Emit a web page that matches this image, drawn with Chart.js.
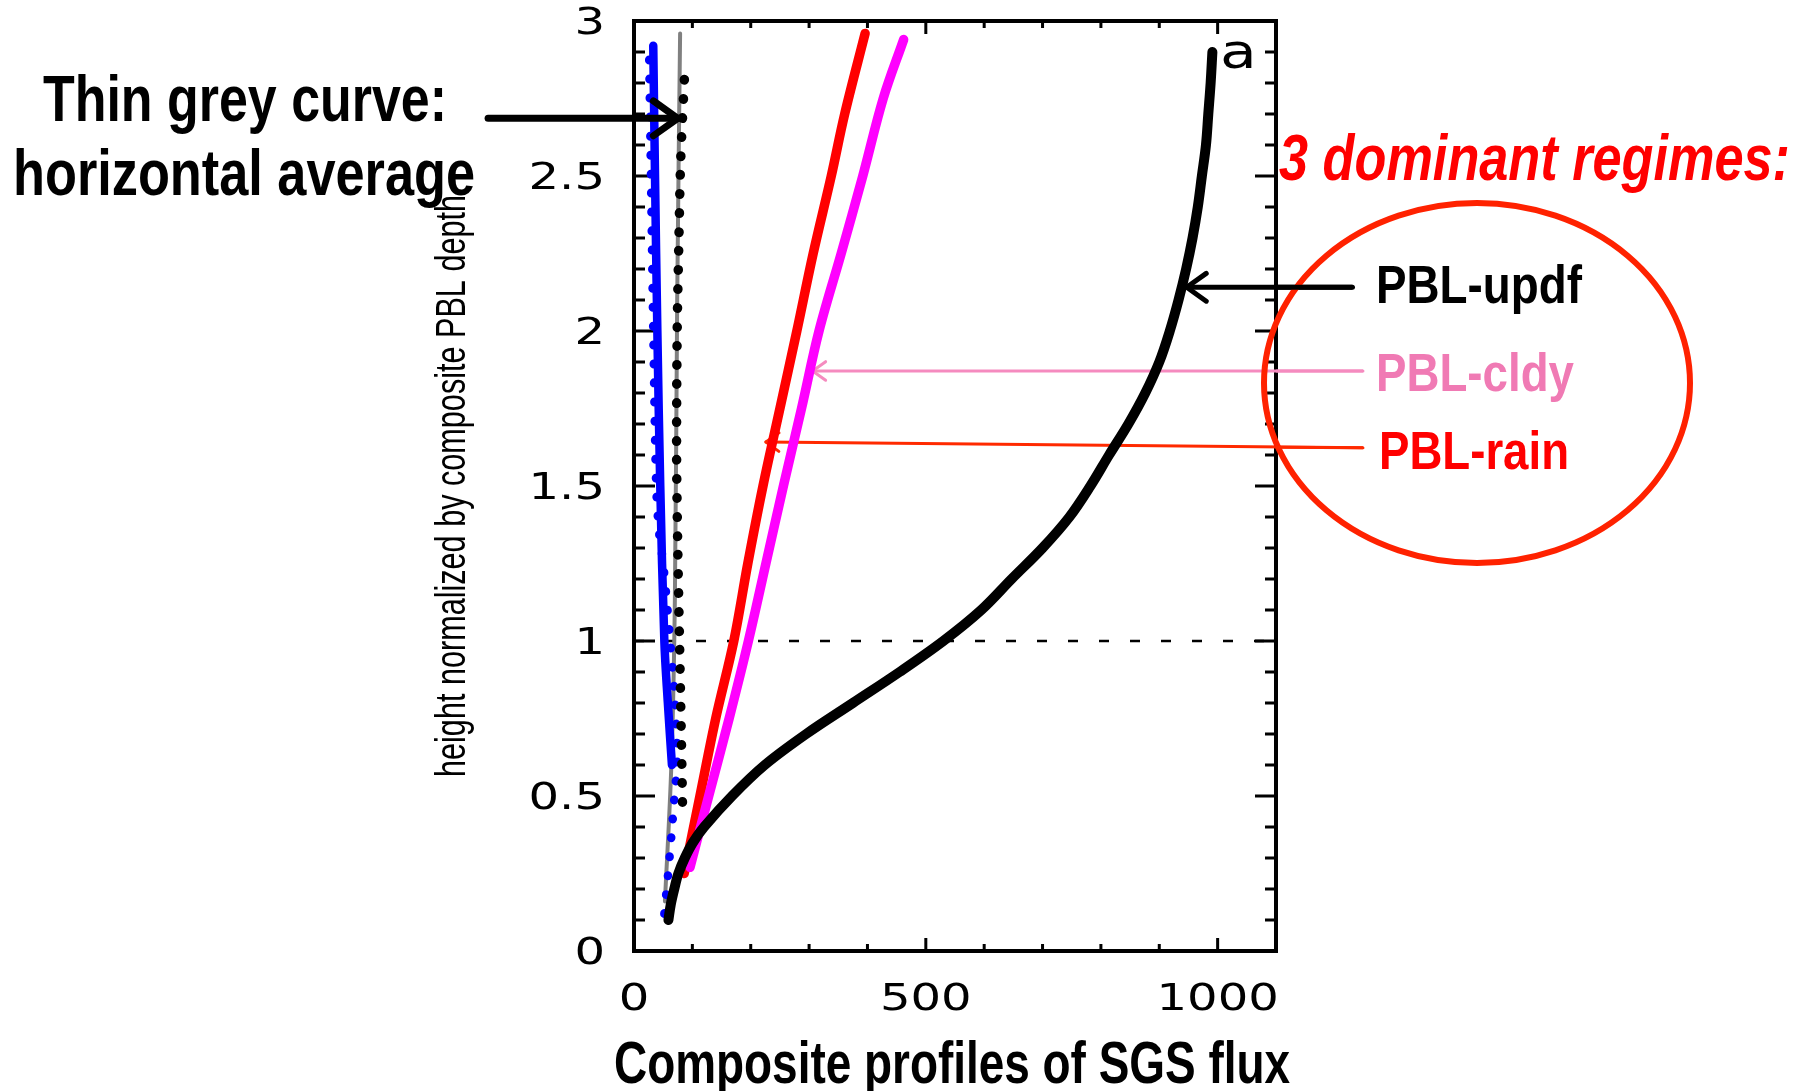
<!DOCTYPE html>
<html>
<head>
<meta charset="utf-8">
<title>Composite profiles of SGS flux</title>
<script src="https://cdn.jsdelivr.net/npm/chart.js@4.4.1/dist/chart.umd.min.js"></script>
<style>
  html, body { margin: 0; padding: 0; background: #fff; }
  #wrap { width: 1802px; height: 1091px; position: relative; }
</style>
</head>
<body>
<div id="wrap"><canvas id="sgsChart"></canvas></div>
<script>
// heights are normalized by the composite PBL depth, fluxes are SGS flux
const updfHeight = [0.1, 0.15, 0.2, 0.25, 0.3, 0.35, 0.4, 0.5, 0.6, 0.7, 0.8, 0.9, 1.0, 1.1, 1.2, 1.3, 1.4, 1.5,
  1.6, 1.7, 1.8, 1.9, 2.0, 2.1, 2.2, 2.3, 2.4, 2.5, 2.6, 2.7, 2.8, 2.9];
const updfFlux = [59, 63, 69, 76, 87, 101, 120, 168, 224, 295, 375, 455, 530, 595, 647, 700, 746, 782,
  814, 847, 876, 900, 918, 933, 946, 957, 966, 973, 980, 984, 988, 991];

const rainHeight = [0.25, 0.5, 0.75, 1.0, 1.25, 1.5, 1.75, 2.0, 2.25, 2.5, 2.7, 2.96];
const rainFlux = [86, 113, 140, 171, 195, 221, 250, 279, 307, 338, 361, 396];

const cldyHeight = [0.27, 0.5, 0.75, 1.0, 1.25, 1.5, 1.75, 2.0, 2.25, 2.5, 2.75, 2.94];
const cldyFlux = [96, 128, 163, 196, 226, 256, 287, 317, 355, 392, 427, 462];

const blueHeight = [0.6, 0.8, 1.0, 1.5, 2.0, 2.5, 2.92];
const blueFlux = [65, 58, 52, 45, 40, 36, 33];

const blueDotHeight = [0.12, 0.24, 0.37, 0.49, 0.62, 0.81, 1.0, 1.11, 1.25, 1.35, 1.5, 2.0, 2.5, 2.88];
const blueDotFlux = [52, 58, 64, 69, 74, 70, 62, 57, 50, 43, 38, 33, 29, 26];

const blackDotHeight = [0.48, 0.6, 0.8, 1.0, 1.3, 1.6, 2.0, 2.3, 2.55, 2.84];
const blackDotFlux = [83, 82, 80, 78, 75, 73, 74, 77, 80, 87];

const meanHeight = [0.16, 0.6, 1.13, 2.1, 2.96];
const meanFlux = [53, 64, 70, 74, 79];

const pblTopHeight = [1, 1];
const pblTopFlux = [0, 1100];

const xTickValues = [0, 500, 1000];
const xTickLabels = ['0', '500', '1000'];
const yTickValues = [0, 0.5, 1, 1.5, 2, 2.5, 3];
const yTickLabels = ['0', '0.5', '1', '1.5', '2', '2.5', '3'];

const X_MIN = 0, X_MAX = 1100, Y_MIN = 0, Y_MAX = 3;

function points(xs, ys) {
  return xs.map((v, i) => ({ x: v, y: ys[i] }));
}

// text drawn with a horizontal stretch (or squeezed to a given width)
function stretchText(ctx, text, x, y, opts) {
  ctx.save();
  ctx.font = opts.font;
  ctx.fillStyle = opts.color || '#000';
  ctx.textAlign = opts.align || 'left';
  ctx.textBaseline = 'alphabetic';
  let sx = opts.sx || 1;
  if (opts.width) sx = opts.width / ctx.measureText(text).width;
  ctx.translate(x, y);
  if (opts.rotate) ctx.rotate(opts.rotate);
  ctx.scale(sx, 1);
  ctx.fillText(text, 0, 0);
  ctx.restore();
}

function arrow(ctx, x0, y0, x1, y1, color, width, head) {
  ctx.save();
  ctx.strokeStyle = color;
  ctx.lineWidth = width;
  ctx.lineCap = 'round';
  ctx.lineJoin = 'round';
  ctx.beginPath();
  ctx.moveTo(x0, y0);
  ctx.lineTo(x1, y1);
  ctx.stroke();
  const a = Math.atan2(y1 - y0, x1 - x0);
  ctx.beginPath();
  ctx.moveTo(x1 - head * Math.cos(a - 0.62), y1 - head * Math.sin(a - 0.62));
  ctx.lineTo(x1, y1);
  ctx.lineTo(x1 - head * Math.cos(a + 0.62), y1 - head * Math.sin(a + 0.62));
  ctx.stroke();
  ctx.restore();
}

const tickFont = '37px "DejaVu Sans"';

// box, inward ticks on all four sides and the tick labels
const framePlugin = {
  id: 'frame',
  beforeDatasetsDraw(chart) {
    const { ctx, scales: { x, y } } = chart;
    const left = x.getPixelForValue(X_MIN), right = x.getPixelForValue(X_MAX);
    const top = y.getPixelForValue(Y_MAX), bottom = y.getPixelForValue(Y_MIN);
    ctx.save();
    ctx.strokeStyle = '#000';
    ctx.lineCap = 'butt';
    ctx.lineWidth = 3;
    for (let v = 100; v < X_MAX; v += 100) {
      const px = x.getPixelForValue(v);
      const len = v % 500 === 0 ? 13 : 7;
      ctx.beginPath();
      ctx.moveTo(px, bottom); ctx.lineTo(px, bottom - len);
      ctx.moveTo(px, top); ctx.lineTo(px, top + len);
      ctx.stroke();
    }
    for (let i = 1; i < 30; i++) {
      const v = i / 10;
      const py = y.getPixelForValue(v);
      const len = i % 5 === 0 ? 21 : 11;
      ctx.beginPath();
      ctx.moveTo(left, py); ctx.lineTo(left + len, py);
      ctx.moveTo(right, py); ctx.lineTo(right - len, py);
      ctx.stroke();
    }
    ctx.lineWidth = 4;
    ctx.strokeRect(left, top, right - left, bottom - top);

    xTickValues.forEach((v, i) => {
      stretchText(ctx, xTickLabels[i], x.getPixelForValue(v), bottom + 59,
        { font: tickFont, align: 'center', sx: 1.3 });
    });
    yTickValues.forEach((v, i) => {
      stretchText(ctx, yTickLabels[i], left - 29, y.getPixelForValue(v) + 13,
        { font: tickFont, align: 'right', sx: 1.3 });
    });
    stretchText(ctx, 'a', x.getPixelForValue(1004), top + 47,
      { font: '48px "DejaVu Sans"', sx: 1.25 });

    // arrows pointing at the regime curves
    const ax = v => x.getPixelForValue(v), ay = v => y.getPixelForValue(v);
    arrow(ctx, ax(1231), ay(2.141), ax(947), ay(2.141), '#000', 5, 24);
    arrow(ctx, ax(1249), ay(1.871), ax(306), ay(1.871), '#f58bbf', 3, 16);
    arrow(ctx, ax(1249), ay(1.623), ax(226), ay(1.642), '#ff2a00', 3, 16);
    ctx.restore();
  },
  afterDatasetsDraw(chart) {
    const { ctx, scales: { x, y } } = chart;
    arrow(ctx, x.getPixelForValue(-250), y.getPixelForValue(2.686),
      x.getPixelForValue(75), y.getPixelForValue(2.686), '#000', 7, 30);
  }
};

// titles and the regime annotation
const notesPlugin = {
  id: 'notes',
  afterDraw(chart) {
    const { ctx } = chart;
    const bold = '"Liberation Sans", Arial, sans-serif';

    stretchText(ctx, 'Thin grey curve:', 245, 121, { font: 'bold 64px ' + bold, align: 'center', width: 404 });
    stretchText(ctx, 'horizontal average', 244, 195, { font: 'bold 64px ' + bold, align: 'center', width: 462 });

    stretchText(ctx, 'height normalized by composite PBL depth', 465, 486,
      { font: '42px ' + bold, align: 'center', width: 582, rotate: -Math.PI / 2 });

    stretchText(ctx, 'Composite profiles of SGS flux', 952, 1083,
      { font: 'bold 60px ' + bold, align: 'center', width: 676 });

    stretchText(ctx, '3 dominant regimes:', 1279, 180,
      { font: 'italic bold 64px ' + bold, color: '#ff0000', width: 511 });

    ctx.save();
    ctx.strokeStyle = '#ff2200';
    ctx.lineWidth = 6;
    ctx.beginPath();
    ctx.ellipse(1477, 383, 213, 180, 0, 0, Math.PI * 2);
    ctx.stroke();
    ctx.restore();

    const { x, y } = chart.scales;
    ctx.save();
    ctx.strokeStyle = '#000';
    ctx.lineWidth = 5;
    ctx.beginPath();
    ctx.moveTo(x.getPixelForValue(1100), y.getPixelForValue(2.141));
    ctx.lineTo(x.getPixelForValue(1231), y.getPixelForValue(2.141));
    ctx.stroke();
    ctx.strokeStyle = '#f58bbf';
    ctx.lineWidth = 3;
    ctx.beginPath();
    ctx.moveTo(x.getPixelForValue(1100), y.getPixelForValue(1.871));
    ctx.lineTo(x.getPixelForValue(1249), y.getPixelForValue(1.871));
    ctx.stroke();
    ctx.strokeStyle = '#ff2a00';
    ctx.beginPath();
    ctx.moveTo(x.getPixelForValue(1100), y.getPixelForValue(1.625));
    ctx.lineTo(x.getPixelForValue(1249), y.getPixelForValue(1.623));
    ctx.stroke();
    ctx.restore();

    stretchText(ctx, 'PBL-updf', 1376, 303, { font: 'bold 54px ' + bold, width: 206 });
    stretchText(ctx, 'PBL-cldy', 1376, 391, { font: 'bold 54px ' + bold, color: '#f07ab4', width: 198 });
    stretchText(ctx, 'PBL-rain', 1379, 469, { font: 'bold 54px ' + bold, color: '#ff0000', width: 190 });
  }
};

const solid = (label, xs, ys, color, width, order) => ({
  label, data: points(xs, ys), borderColor: color, borderWidth: width,
  showLine: true, pointRadius: 0, tension: 0.35, fill: false,
  borderCapStyle: 'round', borderJoinStyle: 'round', order
});

const dotted = (label, xs, ys, color, width, order) => ({
  ...solid(label, xs, ys, color, width, order),
  borderDash: [0.5, 18.5], tension: 0.3
});

new Chart(document.getElementById('sgsChart'), {
  type: 'scatter',
  data: {
    datasets: [
      solid('PBL-updf', updfFlux, updfHeight, '#000000', 10, 1),
      solid('PBL-cldy', cldyFlux, cldyHeight, '#ff00ff', 9.5, 2),
      solid('PBL-rain', rainFlux, rainHeight, '#ff0000', 9.5, 3),
      dotted('black dotted', blackDotFlux, blackDotHeight, '#000000', 9.5, 4),
      dotted('blue dotted', blueDotFlux, blueDotHeight, '#0000ff', 8.5, 5),
      solid('blue', blueFlux, blueHeight, '#0000ff', 8.5, 6),
      solid('horizontal average', meanFlux, meanHeight, '#808080', 4, 7),
      {
        label: 'PBL top', data: points(pblTopFlux, pblTopHeight),
        borderColor: '#000', borderWidth: 2.5, borderDash: [10, 21],
        showLine: true, pointRadius: 0, fill: false, order: 8
      }
    ]
  },
  options: {
    responsive: true,
    maintainAspectRatio: false,
    devicePixelRatio: 1,
    animation: false,
    events: [],
    layout: { padding: { left: 634, right: 526, top: 21, bottom: 140 } },
    plugins: { legend: { display: false }, tooltip: { enabled: false } },
    scales: {
      x: { type: 'linear', min: X_MIN, max: X_MAX, display: false },
      y: { type: 'linear', min: Y_MIN, max: Y_MAX, display: false }
    }
  },
  plugins: [framePlugin, notesPlugin]
});
</script>
</body>
</html>
